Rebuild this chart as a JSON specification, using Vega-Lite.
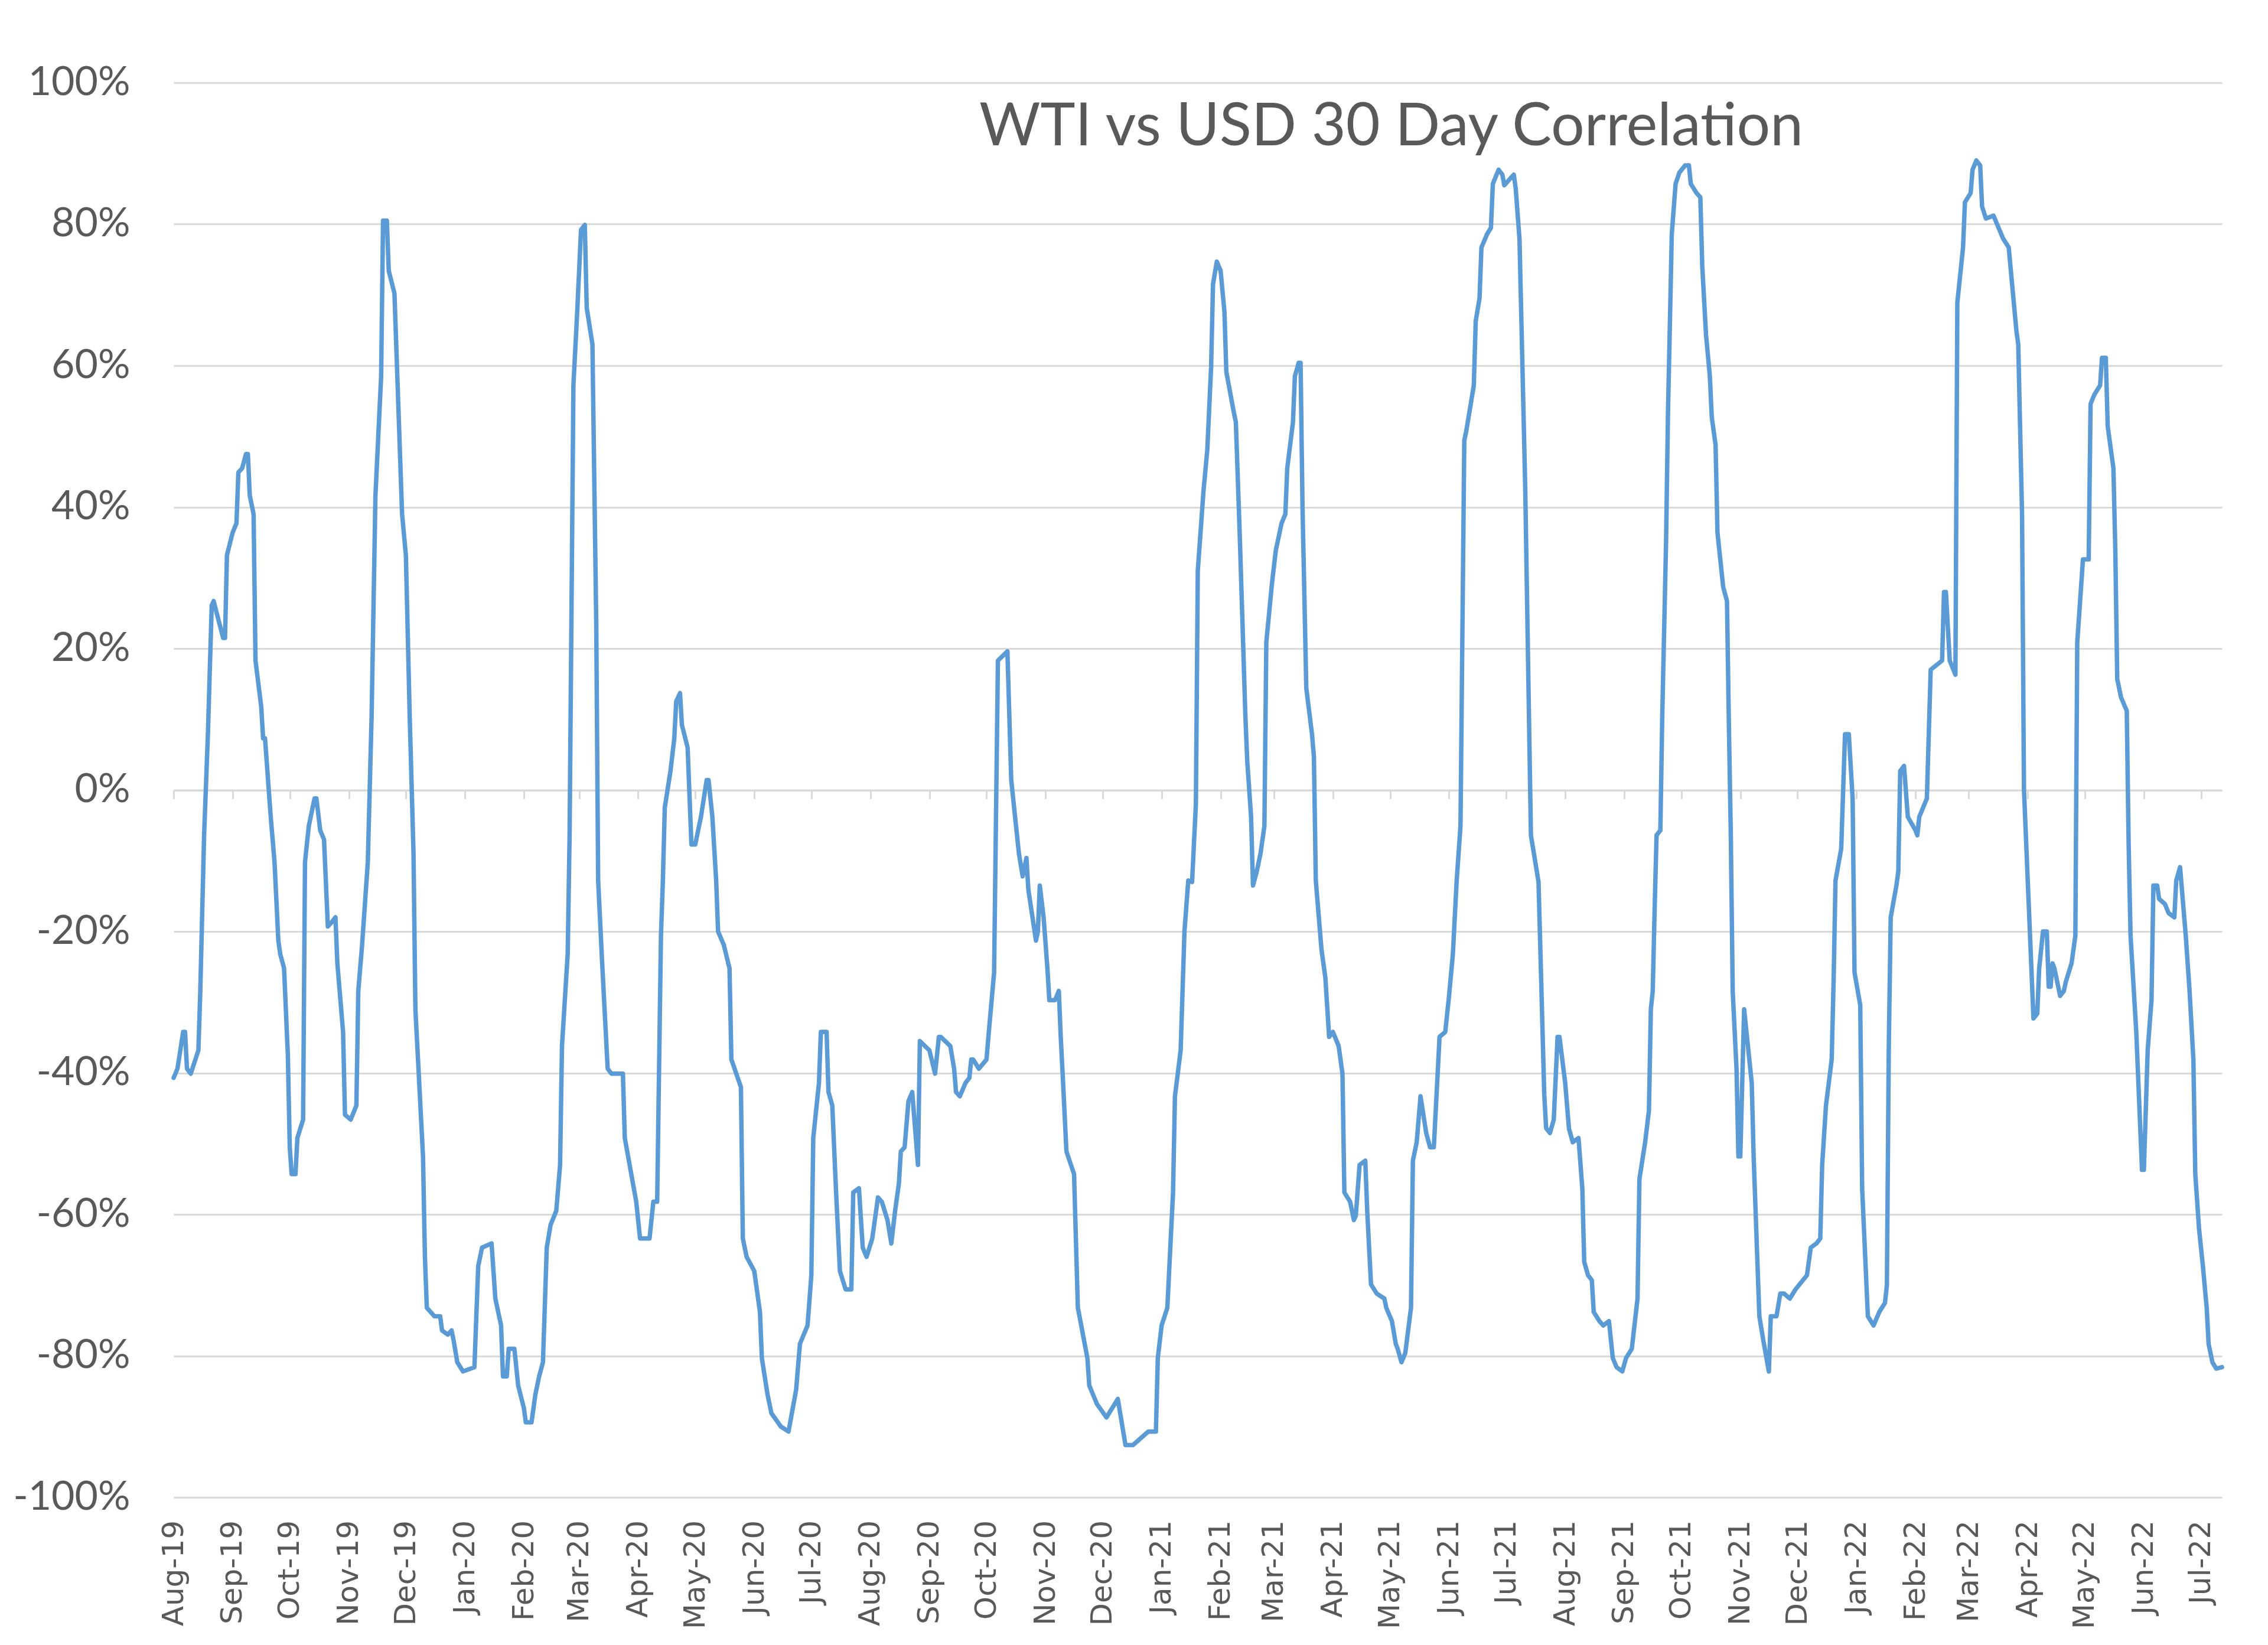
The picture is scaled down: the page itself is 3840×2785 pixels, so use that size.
{
"$schema": "https://vega.github.io/schema/vega-lite/v6.json",
"width": 3468, "height": 2395,
"autosize": {"type": "none"},
"padding": {"left": 294, "top": 140, "right": 78, "bottom": 250},
"background": "white",
"config": {"view": {"stroke": null}},
"title": {"text": "WTI vs USD 30 Day Correlation", "anchor": "start", "frame": "group", "offset": -109, "dx": 1364, "dy": 131, "baseline": "alphabetic", "font": "Lato", "fontSize": 100, "fontWeight": "normal", "color": "#595959"},
"data": {"values": [
{"date":"2019-08-01","corr":-40.7},{"date":"2019-08-03","corr":-39.4},{"date":"2019-08-06","corr":-34.2},{"date":"2019-08-07","corr":-34.2},{"date":"2019-08-08","corr":-39.4},{"date":"2019-08-10","corr":-40.1},{"date":"2019-08-14","corr":-36.8},{"date":"2019-08-15","corr":-28.4},{"date":"2019-08-17","corr":-6.4},{"date":"2019-08-19","corr":7.9},{"date":"2019-08-21","corr":26.1},{"date":"2019-08-22","corr":26.7},{"date":"2019-08-27","corr":21.5},{"date":"2019-08-28","corr":21.5},{"date":"2019-08-29","corr":33.2},
{"date":"2019-09-01","corr":36.4},{"date":"2019-09-03","corr":37.7},{"date":"2019-09-04","corr":44.9},{"date":"2019-09-06","corr":45.5},{"date":"2019-09-08","corr":47.5},{"date":"2019-09-09","corr":47.5},{"date":"2019-09-10","corr":41.6},{"date":"2019-09-12","corr":39.0},{"date":"2019-09-13","corr":18.3},{"date":"2019-09-16","corr":11.8},{"date":"2019-09-17","corr":7.3},{"date":"2019-09-18","corr":7.3},{"date":"2019-09-21","corr":-3.8},{"date":"2019-09-23","corr":-10.2},{"date":"2019-09-25","corr":-21.3},{"date":"2019-09-26","corr":-23.2},{"date":"2019-09-28","corr":-25.2},{"date":"2019-09-30","corr":-37.5},
{"date":"2019-10-01","corr":-50.5},{"date":"2019-10-02","corr":-54.3},{"date":"2019-10-04","corr":-54.3},{"date":"2019-10-05","corr":-49.2},{"date":"2019-10-08","corr":-46.6},{"date":"2019-10-09","corr":-10.2},{"date":"2019-10-11","corr":-5.1},{"date":"2019-10-14","corr":-1.2},{"date":"2019-10-15","corr":-1.2},{"date":"2019-10-17","corr":-5.7},{"date":"2019-10-19","corr":-7.0},{"date":"2019-10-21","corr":-19.3},{"date":"2019-10-23","corr":-18.7},{"date":"2019-10-25","corr":-18.0},{"date":"2019-10-26","corr":-24.5},{"date":"2019-10-29","corr":-34.2},{"date":"2019-10-30","corr":-45.9},
{"date":"2019-11-02","corr":-46.6},{"date":"2019-11-05","corr":-44.6},{"date":"2019-11-06","corr":-28.4},{"date":"2019-11-08","corr":-21.9},{"date":"2019-11-11","corr":-10.2},{"date":"2019-11-13","corr":10.5},{"date":"2019-11-15","corr":41.6},{"date":"2019-11-18","corr":58.5},{"date":"2019-11-19","corr":80.5},{"date":"2019-11-21","corr":80.5},{"date":"2019-11-22","corr":73.4},{"date":"2019-11-25","corr":70.2},{"date":"2019-11-29","corr":39.0},
{"date":"2019-12-01","corr":33.2},{"date":"2019-12-03","corr":10.5},{"date":"2019-12-05","corr":-8.9},{"date":"2019-12-06","corr":-31.0},{"date":"2019-12-10","corr":-51.8},{"date":"2019-12-11","corr":-66.0},{"date":"2019-12-12","corr":-73.2},{"date":"2019-12-16","corr":-74.4},{"date":"2019-12-19","corr":-74.4},{"date":"2019-12-20","corr":-76.4},{"date":"2019-12-23","corr":-77.0},{"date":"2019-12-25","corr":-76.4},{"date":"2019-12-26","corr":-77.7},{"date":"2019-12-28","corr":-80.9},{"date":"2019-12-31","corr":-82.2},
{"date":"2020-01-06","corr":-81.6},{"date":"2020-01-08","corr":-67.3},{"date":"2020-01-10","corr":-64.7},{"date":"2020-01-15","corr":-64.1},{"date":"2020-01-17","corr":-71.9},{"date":"2020-01-20","corr":-75.7},{"date":"2020-01-21","corr":-82.9},{"date":"2020-01-23","corr":-82.9},{"date":"2020-01-24","corr":-79.0},{"date":"2020-01-27","corr":-79.0},{"date":"2020-01-29","corr":-84.2},
{"date":"2020-02-01","corr":-87.4},{"date":"2020-02-02","corr":-89.4},{"date":"2020-02-05","corr":-89.4},{"date":"2020-02-07","corr":-85.5},{"date":"2020-02-09","corr":-82.9},{"date":"2020-02-11","corr":-80.9},{"date":"2020-02-13","corr":-64.7},{"date":"2020-02-15","corr":-61.5},{"date":"2020-02-18","corr":-59.5},{"date":"2020-02-20","corr":-53.0},{"date":"2020-02-21","corr":-36.2},{"date":"2020-02-24","corr":-23.2},{"date":"2020-02-25","corr":-6.4},{"date":"2020-02-27","corr":57.2},{"date":"2020-02-29","corr":67.6},
{"date":"2020-03-02","corr":79.2},{"date":"2020-03-04","corr":79.9},{"date":"2020-03-05","corr":68.2},{"date":"2020-03-08","corr":63.0},{"date":"2020-03-10","corr":23.5},{"date":"2020-03-11","corr":-12.8},{"date":"2020-03-13","corr":-23.9},{"date":"2020-03-16","corr":-39.4},{"date":"2020-03-18","corr":-40.1},{"date":"2020-03-24","corr":-40.1},{"date":"2020-03-25","corr":-49.2},{"date":"2020-03-31","corr":-58.2},
{"date":"2020-04-02","corr":-63.4},{"date":"2020-04-07","corr":-63.4},{"date":"2020-04-09","corr":-58.2},{"date":"2020-04-11","corr":-58.2},{"date":"2020-04-13","corr":-20.6},{"date":"2020-04-14","corr":-12.8},{"date":"2020-04-15","corr":-2.5},{"date":"2020-04-18","corr":2.7},{"date":"2020-04-20","corr":7.3},{"date":"2020-04-21","corr":12.5},{"date":"2020-04-23","corr":13.7},{"date":"2020-04-24","corr":9.2},{"date":"2020-04-27","corr":6.0},{"date":"2020-04-29","corr":-7.7},
{"date":"2020-05-01","corr":-7.7},{"date":"2020-05-04","corr":-3.8},{"date":"2020-05-07","corr":1.4},{"date":"2020-05-08","corr":1.4},{"date":"2020-05-10","corr":-3.8},{"date":"2020-05-12","corr":-12.8},{"date":"2020-05-13","corr":-20.0},{"date":"2020-05-16","corr":-21.9},{"date":"2020-05-19","corr":-25.2},{"date":"2020-05-20","corr":-38.1},{"date":"2020-05-25","corr":-42.0},{"date":"2020-05-26","corr":-63.4},{"date":"2020-05-28","corr":-66.0},
{"date":"2020-06-01","corr":-68.0},{"date":"2020-06-04","corr":-73.8},{"date":"2020-06-05","corr":-80.3},{"date":"2020-06-08","corr":-85.5},{"date":"2020-06-10","corr":-88.1},{"date":"2020-06-15","corr":-90.0},{"date":"2020-06-19","corr":-90.7},{"date":"2020-06-23","corr":-84.8},{"date":"2020-06-25","corr":-78.3},{"date":"2020-06-29","corr":-75.7},
{"date":"2020-07-01","corr":-68.6},{"date":"2020-07-02","corr":-49.2},{"date":"2020-07-05","corr":-41.4},{"date":"2020-07-06","corr":-34.2},{"date":"2020-07-09","corr":-34.2},{"date":"2020-07-10","corr":-42.7},{"date":"2020-07-12","corr":-44.6},{"date":"2020-07-14","corr":-56.9},{"date":"2020-07-16","corr":-68.0},{"date":"2020-07-19","corr":-70.6},{"date":"2020-07-22","corr":-70.6},{"date":"2020-07-23","corr":-56.9},{"date":"2020-07-26","corr":-56.3},{"date":"2020-07-28","corr":-64.7},{"date":"2020-07-30","corr":-66.0},
{"date":"2020-08-02","corr":-63.4},{"date":"2020-08-05","corr":-57.6},{"date":"2020-08-07","corr":-58.2},{"date":"2020-08-10","corr":-60.8},{"date":"2020-08-12","corr":-64.1},{"date":"2020-08-14","corr":-59.5},{"date":"2020-08-16","corr":-55.6},{"date":"2020-08-17","corr":-51.1},{"date":"2020-08-19","corr":-50.5},{"date":"2020-08-21","corr":-44.0},{"date":"2020-08-23","corr":-42.7},{"date":"2020-08-26","corr":-53.0},{"date":"2020-08-27","corr":-35.5},
{"date":"2020-09-01","corr":-36.8},{"date":"2020-09-04","corr":-40.1},{"date":"2020-09-06","corr":-34.9},{"date":"2020-09-07","corr":-34.9},{"date":"2020-09-12","corr":-36.2},{"date":"2020-09-14","corr":-39.4},{"date":"2020-09-15","corr":-42.7},{"date":"2020-09-17","corr":-43.3},{"date":"2020-09-20","corr":-41.4},{"date":"2020-09-22","corr":-40.7},{"date":"2020-09-23","corr":-38.1},{"date":"2020-09-24","corr":-38.1},{"date":"2020-09-27","corr":-39.4},
{"date":"2020-10-01","corr":-38.1},{"date":"2020-10-02","corr":-34.9},{"date":"2020-10-05","corr":-25.8},{"date":"2020-10-07","corr":18.3},{"date":"2020-10-12","corr":19.6},{"date":"2020-10-14","corr":1.4},{"date":"2020-10-18","corr":-8.9},{"date":"2020-10-20","corr":-12.2},{"date":"2020-10-22","corr":-9.6},{"date":"2020-10-23","corr":-14.1},{"date":"2020-10-27","corr":-21.3},{"date":"2020-10-28","corr":-20.0},{"date":"2020-10-29","corr":-13.5},{"date":"2020-10-31","corr":-18.0},
{"date":"2020-11-02","corr":-25.2},{"date":"2020-11-03","corr":-29.7},{"date":"2020-11-06","corr":-29.7},{"date":"2020-11-08","corr":-28.4},{"date":"2020-11-09","corr":-34.9},{"date":"2020-11-10","corr":-40.1},{"date":"2020-11-12","corr":-51.1},{"date":"2020-11-16","corr":-54.3},{"date":"2020-11-18","corr":-73.2},{"date":"2020-11-23","corr":-80.3},{"date":"2020-11-24","corr":-84.2},{"date":"2020-11-28","corr":-86.8},
{"date":"2020-12-03","corr":-88.7},{"date":"2020-12-09","corr":-86.1},{"date":"2020-12-13","corr":-92.6},{"date":"2020-12-17","corr":-92.6},{"date":"2020-12-25","corr":-90.7},{"date":"2020-12-29","corr":-90.7},{"date":"2020-12-30","corr":-80.3},
{"date":"2021-01-01","corr":-75.7},{"date":"2021-01-04","corr":-73.2},{"date":"2021-01-07","corr":-56.9},{"date":"2021-01-08","corr":-43.3},{"date":"2021-01-11","corr":-36.8},{"date":"2021-01-13","corr":-20.0},{"date":"2021-01-15","corr":-12.8},{"date":"2021-01-17","corr":-13.0},{"date":"2021-01-19","corr":-2.0},{"date":"2021-01-20","corr":31.0},{"date":"2021-01-23","corr":42.3},{"date":"2021-01-25","corr":48.1},{"date":"2021-01-27","corr":59.8},{"date":"2021-01-28","corr":71.5},{"date":"2021-01-30","corr":74.7},
{"date":"2021-02-01","corr":73.4},{"date":"2021-02-03","corr":67.6},{"date":"2021-02-04","corr":59.1},{"date":"2021-02-08","corr":53.3},{"date":"2021-02-09","corr":52.0},{"date":"2021-02-11","corr":36.4},{"date":"2021-02-14","corr":10.5},{"date":"2021-02-15","corr":4.0},{"date":"2021-02-17","corr":-3.8},{"date":"2021-02-18","corr":-13.5},{"date":"2021-02-20","corr":-11.5},{"date":"2021-02-22","corr":-8.9},{"date":"2021-02-24","corr":-5.1},{"date":"2021-02-25","corr":20.9},{"date":"2021-02-28","corr":29.3},
{"date":"2021-03-02","corr":33.9},{"date":"2021-03-05","corr":37.7},{"date":"2021-03-07","corr":39.0},{"date":"2021-03-08","corr":45.5},{"date":"2021-03-11","corr":52.0},{"date":"2021-03-12","corr":58.5},{"date":"2021-03-14","corr":60.4},{"date":"2021-03-15","corr":60.4},{"date":"2021-03-16","corr":40.3},{"date":"2021-03-18","corr":14.4},{"date":"2021-03-21","corr":7.9},{"date":"2021-03-22","corr":4.7},{"date":"2021-03-23","corr":-12.8},{"date":"2021-03-26","corr":-22.6},{"date":"2021-03-28","corr":-26.5},{"date":"2021-03-30","corr":-34.9},
{"date":"2021-04-01","corr":-34.2},{"date":"2021-04-04","corr":-36.2},{"date":"2021-04-06","corr":-40.1},{"date":"2021-04-07","corr":-56.9},{"date":"2021-04-10","corr":-58.2},{"date":"2021-04-12","corr":-60.8},{"date":"2021-04-13","corr":-60.2},{"date":"2021-04-15","corr":-53.0},{"date":"2021-04-18","corr":-52.4},{"date":"2021-04-19","corr":-59.5},{"date":"2021-04-21","corr":-69.9},{"date":"2021-04-24","corr":-71.2},{"date":"2021-04-28","corr":-71.9},{"date":"2021-04-29","corr":-73.2},
{"date":"2021-05-02","corr":-75.1},{"date":"2021-05-04","corr":-78.3},{"date":"2021-05-05","corr":-79.0},{"date":"2021-05-07","corr":-80.9},{"date":"2021-05-09","corr":-79.6},{"date":"2021-05-12","corr":-73.2},{"date":"2021-05-13","corr":-52.4},{"date":"2021-05-15","corr":-49.8},{"date":"2021-05-17","corr":-43.3},{"date":"2021-05-20","corr":-48.5},{"date":"2021-05-22","corr":-50.5},{"date":"2021-05-24","corr":-50.5},{"date":"2021-05-27","corr":-34.9},{"date":"2021-05-30","corr":-34.2},
{"date":"2021-06-01","corr":-29.1},{"date":"2021-06-03","corr":-23.2},{"date":"2021-06-05","corr":-12.8},{"date":"2021-06-07","corr":-5.1},{"date":"2021-06-09","corr":49.4},{"date":"2021-06-10","corr":50.7},{"date":"2021-06-14","corr":57.2},{"date":"2021-06-15","corr":66.3},{"date":"2021-06-17","corr":69.5},{"date":"2021-06-18","corr":76.7},{"date":"2021-06-21","corr":78.6},{"date":"2021-06-23","corr":79.5},{"date":"2021-06-24","corr":85.7},{"date":"2021-06-27","corr":87.7},{"date":"2021-06-29","corr":87.0},{"date":"2021-06-30","corr":85.5},
{"date":"2021-07-03","corr":86.4},{"date":"2021-07-05","corr":87.0},{"date":"2021-07-06","corr":85.1},{"date":"2021-07-08","corr":77.9},{"date":"2021-07-11","corr":42.9},{"date":"2021-07-14","corr":-6.4},{"date":"2021-07-18","corr":-13.0},{"date":"2021-07-21","corr":-43.0},{"date":"2021-07-22","corr":-47.8},{"date":"2021-07-24","corr":-48.5},{"date":"2021-07-26","corr":-46.6},{"date":"2021-07-28","corr":-34.9},{"date":"2021-07-29","corr":-34.9},
{"date":"2021-08-01","corr":-41.4},{"date":"2021-08-03","corr":-47.9},{"date":"2021-08-05","corr":-49.8},{"date":"2021-08-08","corr":-49.2},{"date":"2021-08-10","corr":-56.3},{"date":"2021-08-11","corr":-66.7},{"date":"2021-08-13","corr":-68.6},{"date":"2021-08-15","corr":-69.3},{"date":"2021-08-16","corr":-73.8},{"date":"2021-08-19","corr":-75.1},{"date":"2021-08-21","corr":-75.7},{"date":"2021-08-24","corr":-75.1},{"date":"2021-08-26","corr":-80.3},{"date":"2021-08-28","corr":-81.6},{"date":"2021-08-31","corr":-82.2},
{"date":"2021-09-02","corr":-80.3},{"date":"2021-09-05","corr":-79.0},{"date":"2021-09-08","corr":-71.9},{"date":"2021-09-09","corr":-55.0},{"date":"2021-09-12","corr":-49.8},{"date":"2021-09-14","corr":-45.3},{"date":"2021-09-15","corr":-31.0},{"date":"2021-09-16","corr":-28.4},{"date":"2021-09-17","corr":-16.7},{"date":"2021-09-18","corr":-6.4},{"date":"2021-09-20","corr":-5.7},{"date":"2021-09-21","corr":10.5},{"date":"2021-09-23","corr":35.1},{"date":"2021-09-24","corr":53.3},{"date":"2021-09-26","corr":78.6},{"date":"2021-09-28","corr":85.7},{"date":"2021-09-30","corr":87.3},
{"date":"2021-10-03","corr":88.3},{"date":"2021-10-05","corr":88.3},{"date":"2021-10-06","corr":85.7},{"date":"2021-10-09","corr":84.4},{"date":"2021-10-11","corr":83.8},{"date":"2021-10-12","corr":74.1},{"date":"2021-10-14","corr":64.3},{"date":"2021-10-16","corr":58.5},{"date":"2021-10-17","corr":52.7},{"date":"2021-10-19","corr":48.8},{"date":"2021-10-20","corr":36.4},{"date":"2021-10-23","corr":28.7},{"date":"2021-10-25","corr":26.7},{"date":"2021-10-26","corr":9.2},{"date":"2021-10-27","corr":-6.4},{"date":"2021-10-28","corr":-28.4},{"date":"2021-10-30","corr":-39.4},{"date":"2021-10-31","corr":-51.8},
{"date":"2021-11-01","corr":-51.8},{"date":"2021-11-03","corr":-31.0},{"date":"2021-11-04","corr":-33.6},{"date":"2021-11-07","corr":-41.4},{"date":"2021-11-08","corr":-51.8},{"date":"2021-11-11","corr":-74.4},{"date":"2021-11-13","corr":-77.7},{"date":"2021-11-16","corr":-82.2},{"date":"2021-11-17","corr":-74.4},{"date":"2021-11-20","corr":-74.4},{"date":"2021-11-22","corr":-71.2},{"date":"2021-11-24","corr":-71.2},{"date":"2021-11-27","corr":-71.9},{"date":"2021-11-30","corr":-70.6},
{"date":"2021-12-06","corr":-68.6},{"date":"2021-12-08","corr":-64.7},{"date":"2021-12-11","corr":-64.1},{"date":"2021-12-13","corr":-63.4},{"date":"2021-12-14","corr":-53.0},{"date":"2021-12-16","corr":-44.6},{"date":"2021-12-19","corr":-38.1},{"date":"2021-12-20","corr":-27.1},{"date":"2021-12-21","corr":-12.8},{"date":"2021-12-24","corr":-8.3},{"date":"2021-12-26","corr":7.9},{"date":"2021-12-28","corr":7.9},{"date":"2021-12-30","corr":-1.2},{"date":"2021-12-31","corr":-25.8},
{"date":"2022-01-03","corr":-30.4},{"date":"2022-01-04","corr":-56.3},{"date":"2022-01-07","corr":-74.4},{"date":"2022-01-10","corr":-75.7},{"date":"2022-01-13","corr":-73.8},{"date":"2022-01-16","corr":-72.5},{"date":"2022-01-17","corr":-70.0},{"date":"2022-01-18","corr":-36.2},{"date":"2022-01-19","corr":-18.0},{"date":"2022-01-22","corr":-13.5},{"date":"2022-01-23","corr":-11.5},{"date":"2022-01-24","corr":2.7},{"date":"2022-01-26","corr":3.4},{"date":"2022-01-28","corr":-3.8},
{"date":"2022-02-01","corr":-5.7},{"date":"2022-02-02","corr":-6.4},{"date":"2022-02-03","corr":-3.8},{"date":"2022-02-07","corr":-1.2},{"date":"2022-02-09","corr":17.0},{"date":"2022-02-15","corr":18.3},{"date":"2022-02-16","corr":28.0},{"date":"2022-02-17","corr":28.0},{"date":"2022-02-19","corr":18.3},{"date":"2022-02-22","corr":16.3},{"date":"2022-02-23","corr":68.9},{"date":"2022-02-26","corr":76.7},{"date":"2022-02-27","corr":83.1},
{"date":"2022-03-02","corr":84.4},{"date":"2022-03-03","corr":87.7},{"date":"2022-03-05","corr":89.0},{"date":"2022-03-07","corr":88.3},{"date":"2022-03-08","corr":82.5},{"date":"2022-03-10","corr":80.8},{"date":"2022-03-14","corr":81.2},{"date":"2022-03-19","corr":78.0},{"date":"2022-03-22","corr":76.7},{"date":"2022-03-26","corr":65.0},{"date":"2022-03-27","corr":63.0},{"date":"2022-03-29","corr":39.0},{"date":"2022-03-30","corr":0.1},
{"date":"2022-04-04","corr":-32.3},{"date":"2022-04-06","corr":-31.6},{"date":"2022-04-07","corr":-25.2},{"date":"2022-04-09","corr":-20.0},{"date":"2022-04-11","corr":-20.0},{"date":"2022-04-12","corr":-27.8},{"date":"2022-04-13","corr":-27.8},{"date":"2022-04-14","corr":-24.5},{"date":"2022-04-15","corr":-25.2},{"date":"2022-04-17","corr":-27.8},{"date":"2022-04-18","corr":-29.1},{"date":"2022-04-20","corr":-28.4},{"date":"2022-04-21","corr":-27.1},{"date":"2022-04-24","corr":-24.5},{"date":"2022-04-26","corr":-20.6},{"date":"2022-04-27","corr":20.9},{"date":"2022-04-30","corr":32.6},
{"date":"2022-05-03","corr":32.6},{"date":"2022-05-04","corr":54.6},{"date":"2022-05-06","corr":55.9},{"date":"2022-05-09","corr":57.2},{"date":"2022-05-10","corr":61.1},{"date":"2022-05-12","corr":61.1},{"date":"2022-05-13","corr":51.4},{"date":"2022-05-16","corr":45.5},{"date":"2022-05-17","corr":33.9},{"date":"2022-05-18","corr":15.7},{"date":"2022-05-20","corr":13.1},{"date":"2022-05-23","corr":11.2},{"date":"2022-05-24","corr":-7.7},{"date":"2022-05-25","corr":-20.6},{"date":"2022-05-28","corr":-34.2},{"date":"2022-05-31","corr":-53.7},
{"date":"2022-06-01","corr":-53.7},{"date":"2022-06-03","corr":-36.8},{"date":"2022-06-05","corr":-29.7},{"date":"2022-06-06","corr":-13.5},{"date":"2022-06-08","corr":-13.5},{"date":"2022-06-09","corr":-15.4},{"date":"2022-06-12","corr":-16.1},{"date":"2022-06-14","corr":-17.4},{"date":"2022-06-17","corr":-18.0},{"date":"2022-06-18","corr":-12.8},{"date":"2022-06-20","corr":-10.9},{"date":"2022-06-23","corr":-20.6},{"date":"2022-06-25","corr":-28.4},{"date":"2022-06-27","corr":-38.1},{"date":"2022-06-28","corr":-54.3},{"date":"2022-06-30","corr":-62.1},
{"date":"2022-07-02","corr":-67.3},{"date":"2022-07-04","corr":-73.2},{"date":"2022-07-05","corr":-78.3},{"date":"2022-07-07","corr":-80.9},{"date":"2022-07-09","corr":-81.8},{"date":"2022-07-12","corr":-81.6}
]},
"mark": {"type": "line", "color": "#5b9bd5", "strokeWidth": 7.5, "strokeJoin": "round", "strokeCap": "round"},
"encoding": {
  "x": {"field": "date", "type": "temporal",
    "scale": {"type": "utc", "nice": false, "domain": [{"year": 2019, "month": 8, "date": 1, "utc": true}, {"year": 2022, "month": 7, "date": 12, "utc": true}]},
    "axis": {"title": null, "orient": "bottom", "offset": -1197.5, "tickCount": {"interval": "month", "step": 1}, "labelExpr": "utcFormat(datum.value, '%b-%y')", "labelAngle": -90, "labelFont": "DejaVu Sans", "labelFontSize": 50, "labelColor": "#595959", "labelPadding": 1221, "labelLimit": 0, "labelOverlap": false, "labelFlush": false, "labelBound": false, "domain": true, "domainColor": "#d9d9d9", "domainWidth": 3, "ticks": true, "tickColor": "#d9d9d9", "tickWidth": 3, "tickSize": 15, "grid": false}},
  "y": {"field": "corr", "type": "quantitative",
    "scale": {"domain": [-100, 100], "nice": false, "zero": false},
    "axis": {"title": null, "values": [-100, -80, -60, -40, -20, 0, 20, 40, 60, 80, 100], "labelExpr": "datum.value + '%'", "labelFont": "Lato", "labelFontSize": 68, "labelColor": "#595959", "labelPadding": 74, "labelLimit": 0, "domain": false, "ticks": false, "grid": true, "gridColor": "#d9d9d9", "gridWidth": 3}}
}
}
